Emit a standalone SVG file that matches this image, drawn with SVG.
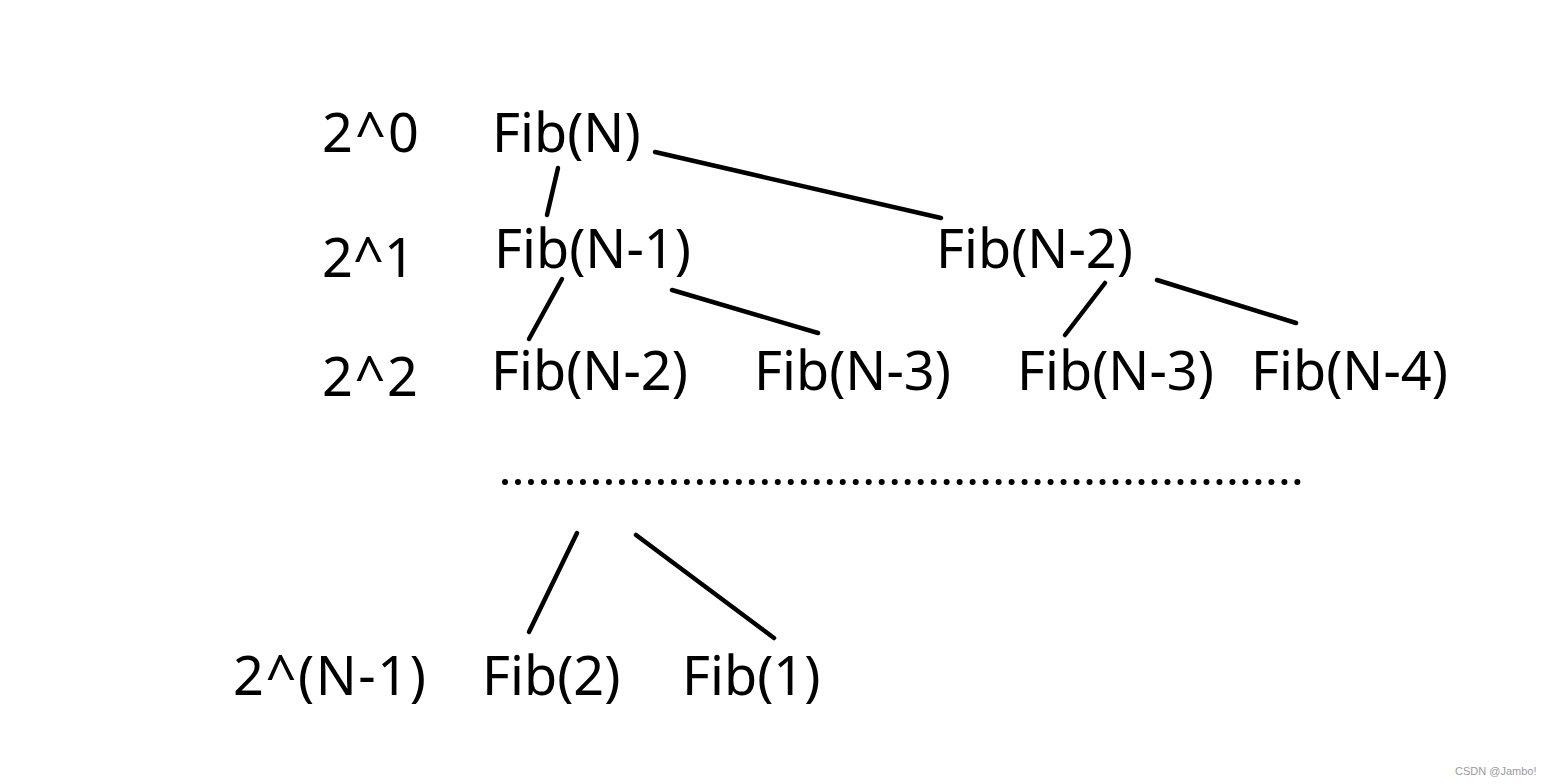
<svg xmlns="http://www.w3.org/2000/svg" width="1550" height="784" viewBox="0 0 1550 784">
<style>
.t{font-family:"Noto Sans","Open Sans","Liberation Sans",sans-serif;font-size:54px;fill:#000}
.e{stroke:#000;stroke-width:4.5;stroke-linecap:round;fill:none}
.wm{font-family:"Liberation Sans","DejaVu Sans",sans-serif;font-size:11px;fill:#9a9a9a}
</style>
<rect width="1550" height="784" fill="#fff"/>
<g id="levels">
<text class="t" x="322" y="152" textLength="97" lengthAdjust="spacing">2^0</text>
<text class="t" x="322" y="277" textLength="93" lengthAdjust="spacing">2^1</text>
<text class="t" x="322" y="396" textLength="96" lengthAdjust="spacing">2^2</text>
<text class="t" x="233" y="695" textLength="193" lengthAdjust="spacing">2^(N-1)</text>
</g>
<g id="n0"><text class="t" x="492" y="152">Fib(N)</text></g>
<g id="n1"><text class="t" x="494" y="268">Fib(N-1)</text></g>
<g id="n2"><text class="t" x="936" y="268">Fib(N-2)</text></g>
<g id="n3"><text class="t" x="491" y="390">Fib(N-2)</text></g>
<g id="n4"><text class="t" x="754" y="390">Fib(N-3)</text></g>
<g id="n5"><text class="t" x="1017" y="390">Fib(N-3)</text></g>
<g id="n6"><text class="t" x="1251" y="390">Fib(N-4)</text></g>
<g id="n7"><text class="t" x="482" y="695">Fib(2)</text></g>
<g id="n8"><text class="t" x="682" y="695">Fib(1)</text></g>
<g id="dots"><path d="M505 482 H1300" stroke="#000" stroke-width="6" stroke-linecap="round" stroke-dasharray="0 12.99" fill="none"/></g>
<g id="connectors">
<line class="e" x1="558" y1="168" x2="547" y2="215"/>
<line class="e" x1="655" y1="152" x2="941" y2="218"/>
<line class="e" x1="562" y1="279" x2="529" y2="339"/>
<line class="e" x1="672" y1="290" x2="818" y2="333"/>
<line class="e" x1="1105" y1="283" x2="1065" y2="335"/>
<line class="e" x1="1157" y1="280" x2="1296" y2="323"/>
<line class="e" x1="577" y1="533" x2="529" y2="632"/>
<line class="e" x1="636" y1="535" x2="774" y2="638"/>
</g>
<text class="wm" x="1455" y="775">CSDN @Jambo!</text>
</svg>
